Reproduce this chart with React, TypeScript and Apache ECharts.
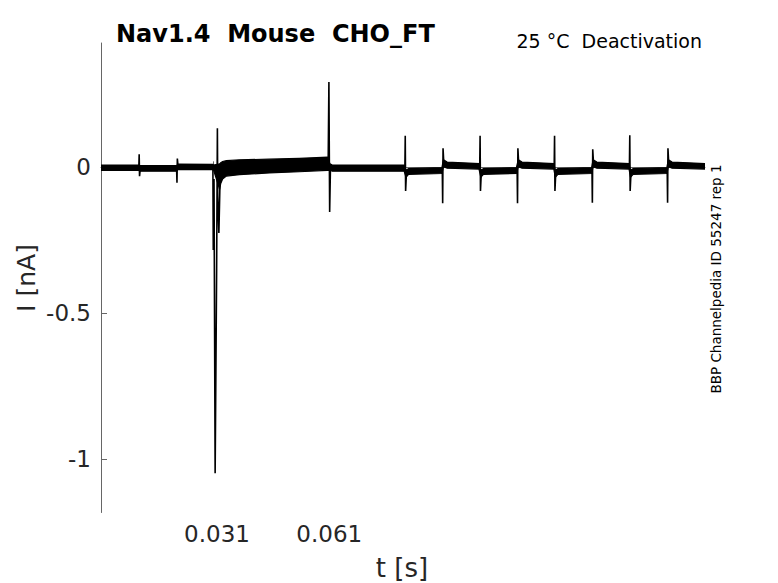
import React, { useEffect, useRef } from "react";
import * as echarts from "echarts";

// Recorded current trace (time [s], current [nA]) - centre line with transients
const traceT = [
  0.0, 0.0101, 0.0102, 0.0103, 0.0105, 0.0202, 0.0203, 0.0204, 0.0206, 0.0299,
  0.03, 0.0302, 0.0305, 0.0309, 0.0311, 0.0312, 0.0315, 0.0318, 0.0325, 0.04,
  0.05, 0.0607, 0.0609, 0.0611, 0.0613, 0.0617, 0.0812, 0.0813, 0.0814, 0.0816,
  0.0824, 0.0912, 0.0913, 0.0914, 0.0916, 0.0926, 0.1012, 0.1013, 0.1014, 0.1016,
  0.1024, 0.1112, 0.1113, 0.1114, 0.1116, 0.1126, 0.1211, 0.1212, 0.1213, 0.1215,
  0.1223, 0.1312, 0.1313, 0.1314, 0.1316, 0.1326, 0.1412, 0.1413, 0.1414, 0.1416,
  0.1424, 0.1513, 0.1514, 0.1515, 0.1517, 0.1527, 0.1614,
];
const traceI = [
  -0.001, -0.001, 0.045, -0.03, -0.004, -0.004, -0.053, 0.03, 0.002, 0.001,
  -0.283, -0.04, -1.047, -0.35, 0.134, -0.1, -0.225, -0.05, -0.012, 0.002,
  0.006, 0.01, 0.292, -0.153, -0.01, -0.002, -0.002, 0.108, -0.081, -0.024,
  -0.014, -0.011, -0.123, 0.065, 0.016, 0.007, 0.004, 0.108, -0.081, -0.024,
  -0.014, -0.011, -0.123, 0.065, 0.016, 0.007, 0.004, 0.108, -0.081, -0.024,
  -0.014, -0.011, -0.121, 0.062, 0.016, 0.007, 0.004, 0.11, -0.081, -0.024,
  -0.014, -0.011, -0.121, 0.065, 0.016, 0.007, 0.003,
];

// Spread of the overlaid sweeps (noise band): time, lower and upper edge [nA]
const bandT = [
  0.0, 0.01, 0.0104, 0.0202, 0.0206, 0.0299, 0.0301, 0.0317, 0.032, 0.0325,
  0.0335, 0.037, 0.045, 0.053, 0.0605, 0.0612, 0.0618, 0.081, 0.0815, 0.0822,
  0.0911, 0.0915, 0.0925, 0.101, 0.1015, 0.1022, 0.111, 0.1115, 0.1125, 0.121,
  0.1214, 0.1221, 0.1311, 0.1315, 0.1325, 0.1411, 0.1415, 0.1422, 0.1512, 0.1516,
  0.1526, 0.1614,
];
const bandLo = [
  -0.01, -0.01, -0.013, -0.013, -0.007, -0.008, -0.01, -0.075, -0.055, -0.04,
  -0.03, -0.025, -0.019, -0.015, -0.01, -0.01, -0.013, -0.013, -0.034, -0.024,
  -0.021, 0.002, -0.003, -0.006, -0.034, -0.024, -0.021, 0.002, -0.003, -0.006,
  -0.034, -0.024, -0.021, 0.002, -0.003, -0.006, -0.034, -0.024, -0.021, 0.002,
  -0.003, -0.006,
];
const bandHi = [
  0.008, 0.008, 0.006, 0.006, 0.011, 0.01, 0.008, 0.012, 0.016, 0.02,
  0.023, 0.026, 0.028, 0.031, 0.035, 0.012, 0.008, 0.008, -0.01, -0.004,
  -0.001, 0.026, 0.018, 0.013, -0.01, -0.004, -0.001, 0.026, 0.018, 0.013,
  -0.01, -0.004, -0.001, 0.026, 0.018, 0.013, -0.01, -0.004, -0.001, 0.026,
  0.018, 0.013,
];

const xTickValues = [0.03, 0.031, 0.061];
const xLabelValues = [0.031, 0.061];
const yTickValues = [-1, -0.5, 0];

const title = "Nav1.4  Mouse  CHO_FT";
const subtitle = "25 °C  Deactivation";
const sideNote = "BBP Channelpedia ID 55247 rep 1";
const xName = "t [s]";
const yName = "I [nA]";

const FONT = "DejaVu Sans";
const AXIS = "#666666";
const TEXT = "#262626";

export default function App() {
  const ref = useRef<HTMLDivElement>(null);

  useEffect(() => {
    if (!ref.current) return;
    const chart = echarts.init(ref.current, null, { renderer: "svg" });

    const trace = traceT.map((t, i) => [t, traceI[i]]);
    const band = bandT.map((t, i) => [t, bandLo[i], bandHi[i]]);

    chart.setOption({
      animation: false,
      backgroundColor: "#ffffff",
      grid: { left: 101, right: 73, top: 43, bottom: 70.5 },
      xAxis: {
        type: "value",
        min: 0,
        max: 0.1614,
        axisLine: { show: true, lineStyle: { color: AXIS, width: 1 } },
        axisTick: {
          show: true,
          inside: true,
          length: 6,
          customValues: xTickValues,
          lineStyle: { color: AXIS, width: 1 },
        },
        axisLabel: {
          customValues: xLabelValues,
          formatter: (v: number) => v.toFixed(3),
          color: TEXT,
          fontFamily: FONT,
          fontSize: 23,
          margin: 10,
        },
        splitLine: { show: false },
      },
      yAxis: {
        type: "value",
        min: -1.1815,
        max: 0.4257,
        axisLine: { show: true, lineStyle: { color: AXIS, width: 1 } },
        axisTick: {
          show: true,
          inside: true,
          length: 6,
          customValues: yTickValues,
          lineStyle: { color: AXIS, width: 1 },
        },
        axisLabel: {
          customValues: yTickValues,
          formatter: (v: number) => (v === 0 ? "0" : String(v)),
          color: TEXT,
          fontFamily: FONT,
          fontSize: 23,
          margin: 10,
        },
        splitLine: { show: false },
      },
      series: [
        {
          type: "custom",
          name: "spread",
          data: band,
          encode: { x: 0, y: [1, 2] },
          clip: true,
          silent: true,
          renderItem: (params: any, api: any) => {
            if (params.dataIndex !== 0) return null;
            const upper = band.map((d) => api.coord([d[0], d[2]]));
            const lower = band
              .slice()
              .reverse()
              .map((d) => api.coord([d[0], d[1]]));
            return {
              type: "polygon",
              shape: { points: upper.concat(lower) },
              style: { fill: "#000", stroke: "#000", lineWidth: 1.2 },
            };
          },
        },
        {
          type: "line",
          name: "trace",
          data: trace,
          showSymbol: false,
          symbol: "none",
          lineStyle: { color: "#000", width: 1.6 },
          silent: true,
        },
      ],
      graphic: [
        {
          type: "text",
          x: 116,
          y: 34.4,
          style: {
            text: title,
            fill: "#000",
            fontFamily: FONT,
            fontWeight: "bold",
            fontSize: 24,
            textAlign: "left",
            textVerticalAlign: "middle",
          },
        },
        {
          type: "text",
          x: 702,
          y: 40.7,
          style: {
            text: subtitle,
            fill: "#000",
            fontFamily: FONT,
            fontSize: 19,
            textAlign: "right",
            textVerticalAlign: "middle",
          },
        },
        {
          type: "text",
          x: 402,
          y: 568,
          style: {
            text: xName,
            fill: TEXT,
            fontFamily: FONT,
            fontSize: 26,
            textAlign: "center",
            textVerticalAlign: "middle",
          },
        },
        {
          type: "text",
          x: 26.5,
          y: 278,
          rotation: Math.PI / 2,
          style: {
            text: yName,
            fill: TEXT,
            fontFamily: FONT,
            fontSize: 25,
            textAlign: "center",
            textVerticalAlign: "middle",
          },
        },
        {
          type: "text",
          x: 716,
          y: 279,
          rotation: Math.PI / 2,
          style: {
            text: sideNote,
            fill: "#000",
            fontFamily: FONT,
            fontSize: 13.5,
            textAlign: "center",
            textVerticalAlign: "middle",
          },
        },
      ],
    });

    return () => {
      chart.dispose();
    };
  }, []);

  return (
    <div
      ref={ref}
      style={{ position: "absolute", left: 0, top: 0, width: 778, height: 583 }}
    />
  );
}
